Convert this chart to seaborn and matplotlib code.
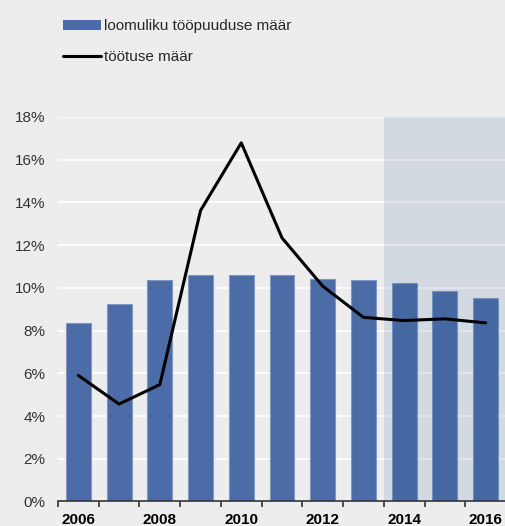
import numpy as np
import pandas as pd
import seaborn as sns
import matplotlib.pyplot as plt
from matplotlib.patches import Patch
from matplotlib.lines import Line2D

years = [2006, 2007, 2008, 2009, 2010, 2011, 2012, 2013, 2014, 2015, 2016]
natural_rate = [8.36, 9.26, 10.37, 10.58, 10.62, 10.62, 10.42, 10.37, 10.23, 9.84, 9.51]
unemployment = [5.90, 4.56, 5.47, 13.62, 16.79, 12.34, 10.08, 8.62, 8.47, 8.55, 8.36]
forecast_from = 2014
yticks = [0, 2, 4, 6, 8, 10, 12, 14, 16, 18]

bg = "#ecedec"
sns.set_style("white")
plt.rcParams["font.family"] = ["Liberation Sans", "DejaVu Sans"]

df = pd.DataFrame({"year": [str(y) for y in years],
                   "natural": natural_rate,
                   "unemp": unemployment,
                   "pos": np.arange(len(years))})

fig = plt.figure(figsize=(5.06, 5.26), dpi=100, facecolor=bg)
ax = fig.add_axes([0.1146, 0.0466, 0.8854, 0.731])
ax.set_facecolor(bg)

sns.barplot(data=df, x="year", y="natural", color="#4b6ca6", width=0.61,
            edgecolor="#7f98c4", linewidth=0.8, saturation=1, ax=ax, zorder=2)

# shaded forecast period
start = years.index(forecast_from) - 0.5
ax.axvspan(start, len(years) - 0.5, color="#1f4e8c", alpha=0.12, lw=0, zorder=3)

sns.lineplot(data=df, x="pos", y="unemp", color="black", linewidth=2.2, ax=ax, zorder=4)

ax.set_xlim(-0.5, len(years) - 0.5)
ax.set_ylim(0, 18)
ax.set_yticks(yticks)
ax.set_yticklabels([f"{v}%" for v in yticks])
ax.yaxis.grid(True, color="white", linewidth=1.2, zorder=0)
ax.set_axisbelow(True)

ax.set_xticks(df["pos"][::2])
ax.set_xticklabels(df["year"][::2], fontsize=11, fontweight="bold", color="black")
ax.set_xticks(np.arange(-0.5, len(years) - 0.5), minor=True)
ax.tick_params(axis="x", which="major", bottom=True, length=0, pad=8)
ax.tick_params(axis="x", which="minor", bottom=True, length=4, width=1.2,
               color="#333333", direction="out")
ax.tick_params(axis="y", length=0, pad=9, labelsize=11, labelcolor="#333333")
ax.set_xlabel("")
ax.set_ylabel("")

for s in ["top", "right", "left"]:
    ax.spines[s].set_visible(False)
ax.spines["bottom"].set_color("#333333")
ax.spines["bottom"].set_linewidth(1.2)

handles = [Patch(facecolor="#4b6ca6", edgecolor="none"),
           Line2D([], [], color="black", linewidth=2.2)]
fig.legend(handles, ["loomuliku tööpuuduse määr", "töötuse määr"],
           loc="upper left", bbox_to_anchor=(0.112, 0.975), frameon=False,
           fontsize=11, handlelength=2.5, handletextpad=0.2,
           labelspacing=1.1, borderaxespad=0)

fig.savefig("out.png", dpi=100, facecolor=bg)
